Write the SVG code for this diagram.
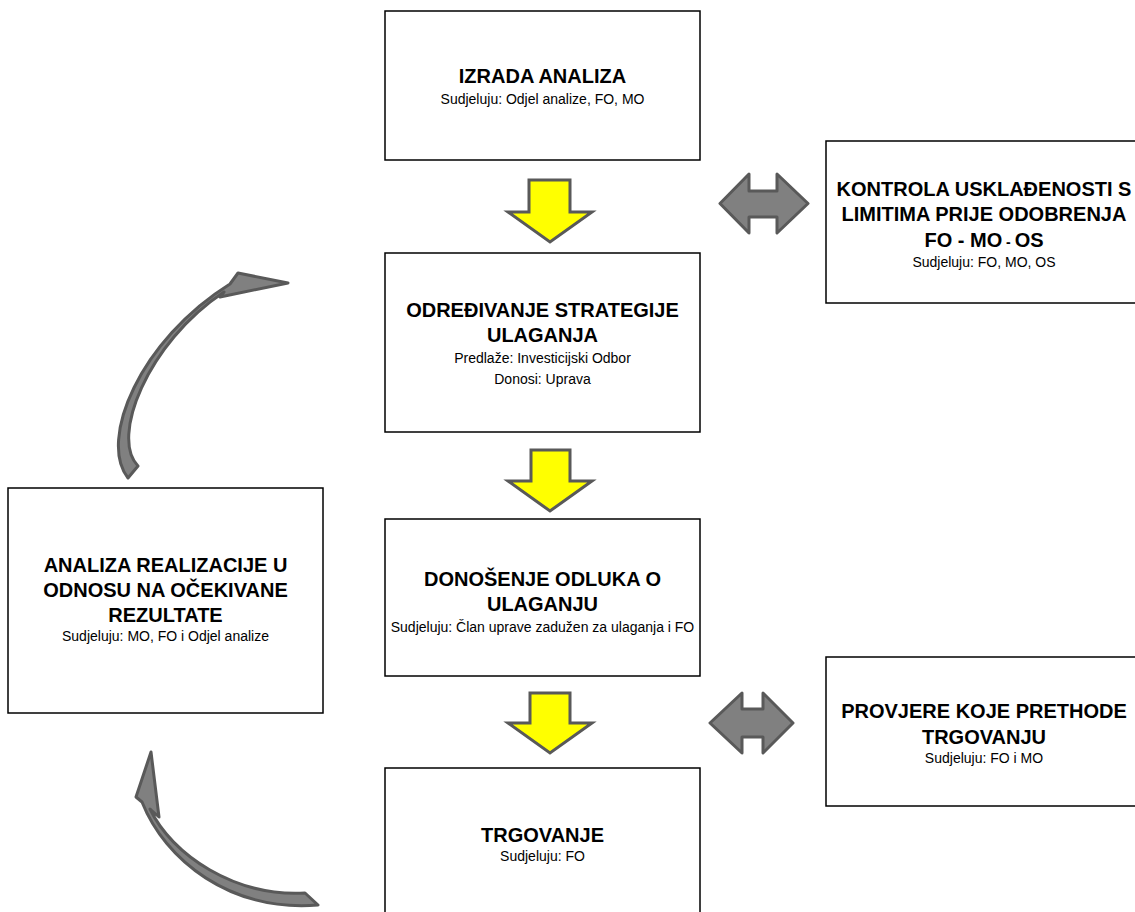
<svg xmlns="http://www.w3.org/2000/svg" width="1135" height="912" viewBox="0 0 1135 912">
<style>
.box{fill:#fff;stroke:#000;stroke-width:1.5}
.t{font-family:"Liberation Sans",Arial,sans-serif;font-weight:bold;font-size:20px;fill:#000;text-anchor:middle}
.s{font-family:"Liberation Sans",Arial,sans-serif;font-size:14px;fill:#000;text-anchor:middle}
.ya{fill:#ffff00;stroke:#595959;stroke-width:3;stroke-linejoin:miter}
.ga{fill:#808080;stroke:#595959;stroke-width:3;stroke-linejoin:round}
</style>
<rect width="1135" height="912" fill="#fff"/>
<g id="connectors">
<polygon class="ya" points="529,180 570,180 570,212 592,212 550,242 508,212 529,212"/>
<polygon class="ya" points="531,450 570,450 570,481 592,481 550,511 508,481 531,481"/>
<polygon class="ya" points="530,693 570,693 570,723 592,723 550,753 508,723 530,723"/>
<polygon class="ga" points="720,203.5 749,174 749,191 777,191 777,174 808,203.5 777,233 777,217 749,217 749,233"/>
<polygon class="ga" points="710,723 742,693 742,709 763,709 763,693 793,723 763,753 763,737 742,737 742,753"/>
<path class="ga" d="M128,478 C98,440 140,340 230,284 L238,273 L288,283 L220,297 L224,292 C147,343 110,438 138,466 Z"/>
<path class="ga" d="M142,802 L136,797 L151,752 L159,817 L150,809 C172,855 235,897 305,893 L318,905 C230,912 165,860 142,802 Z"/>
</g>
<g id="n1">
<rect class="box" x="385" y="11" width="315" height="149"/>
<text class="t" x="542.5" y="83">IZRADA ANALIZA</text>
<text class="s" x="542.5" y="104">Sudjeluju: Odjel analize, FO, MO</text>
</g>
<g id="n2">
<rect class="box" x="385" y="253" width="315" height="179"/>
<text class="t" x="542.5" y="317">ODREĐIVANJE STRATEGIJE</text>
<text class="t" x="542.5" y="342">ULAGANJA</text>
<text class="s" x="542.5" y="363">Predlaže: Investicijski Odbor</text>
<text class="s" x="542.5" y="384">Donosi: Uprava</text>
</g>
<g id="n3">
<rect class="box" x="385" y="519" width="315" height="157"/>
<text class="t" x="542.5" y="586">DONOŠENJE ODLUKA O</text>
<text class="t" x="542.5" y="611">ULAGANJU</text>
<text class="s" x="542.5" y="632">Sudjeluju: Član uprave zadužen za ulaganja i FO</text>
</g>
<g id="n4">
<rect class="box" x="385" y="768" width="315" height="150"/>
<text class="t" x="542.5" y="842">TRGOVANJE</text>
<text class="s" x="542.5" y="861">Sudjeluju: FO</text>
</g>
<g id="n5">
<rect class="box" x="826" y="141" width="320" height="162"/>
<text class="t" x="984" y="196">KONTROLA USKLAĐENOSTI S</text>
<text class="t" x="984" y="221">LIMITIMA PRIJE ODOBRENJA</text>
<text class="t" x="984" y="247">FO - MO<tspan font-size="14"> - </tspan>OS</text>
<text class="s" x="984" y="267">Sudjeluju: FO, MO, OS</text>
</g>
<g id="n6">
<rect class="box" x="826" y="657" width="320" height="149"/>
<text class="t" x="984" y="718">PROVJERE KOJE PRETHODE</text>
<text class="t" x="984" y="744">TRGOVANJU</text>
<text class="s" x="984" y="763">Sudjeluju: FO i MO</text>
</g>
<g id="n7">
<rect class="box" x="8" y="488" width="315" height="225"/>
<text class="t" x="165.5" y="572">ANALIZA REALIZACIJE U</text>
<text class="t" x="165.5" y="597">ODNOSU NA OČEKIVANE</text>
<text class="t" x="165.5" y="622">REZULTATE</text>
<text class="s" x="165.5" y="641">Sudjeluju: MO, FO i Odjel analize</text>
</g>
</svg>
